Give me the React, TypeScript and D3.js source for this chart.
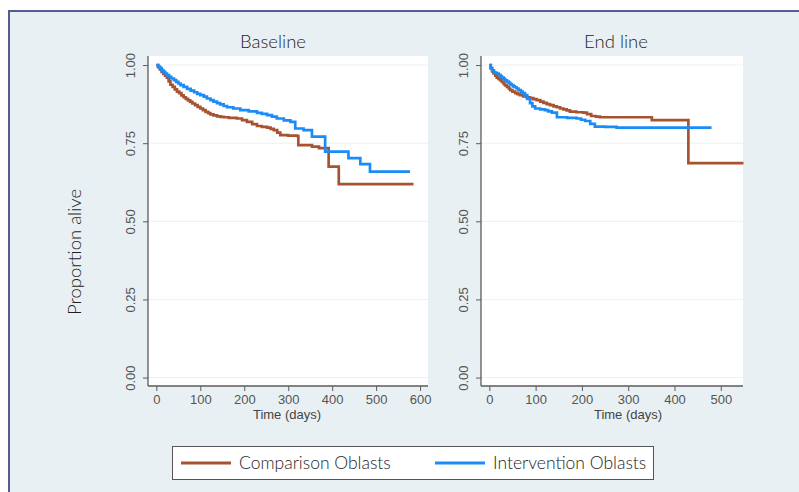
import React, { useEffect, useRef } from 'react';
import * as d3 from 'd3';

// Kaplan-Meier estimates (days, proportion alive)
const baseCompTime = [0, 4, 8, 12, 16, 20, 24, 28, 32, 37, 42, 47, 52, 57, 62, 67, 72, 77, 82, 88, 94, 100, 106, 112, 118, 123, 130, 138, 146, 153, 165, 183, 195, 206, 218, 229, 240, 252, 260, 267, 275, 282, 300, 320, 323, 354, 370, 392, 415, 585];
const baseCompSurv = [1, 0.993, 0.986, 0.978, 0.972, 0.966, 0.96, 0.948, 0.937, 0.93, 0.922, 0.915, 0.91, 0.903, 0.897, 0.892, 0.887, 0.882, 0.877, 0.872, 0.866, 0.861, 0.856, 0.85, 0.846, 0.842, 0.839, 0.836, 0.834, 0.833, 0.831, 0.829, 0.824, 0.818, 0.811, 0.805, 0.802, 0.8, 0.796, 0.792, 0.784, 0.776, 0.774, 0.773, 0.744, 0.739, 0.734, 0.675, 0.619, 0.619];
const baseIntTime = [0, 4, 8, 12, 16, 20, 24, 29, 34, 40, 45, 50, 55, 62, 70, 78, 86, 93, 100, 108, 115, 123, 130, 138, 145, 153, 161, 175, 191, 210, 229, 240, 252, 263, 274, 290, 305, 316, 335, 354, 384, 437, 464, 486, 577];
const baseIntSurv = [1, 0.995, 0.99, 0.984, 0.978, 0.973, 0.968, 0.962, 0.957, 0.952, 0.946, 0.941, 0.936, 0.93, 0.924, 0.918, 0.913, 0.908, 0.904, 0.899, 0.893, 0.888, 0.883, 0.878, 0.874, 0.869, 0.865, 0.861, 0.856, 0.852, 0.847, 0.844, 0.84, 0.835, 0.829, 0.823, 0.818, 0.797, 0.792, 0.771, 0.723, 0.702, 0.683, 0.659, 0.659];
const endCompTime = [0, 3, 6, 9, 13, 16, 20, 23, 27, 31, 34, 38, 42, 45, 50, 56, 61, 66, 73, 80, 88, 95, 102, 110, 117, 124, 131, 139, 146, 153, 160, 167, 174, 188, 203, 211, 220, 230, 239, 351, 430, 549];
const endCompSurv = [1, 0.99, 0.98, 0.973, 0.966, 0.96, 0.956, 0.952, 0.946, 0.94, 0.935, 0.93, 0.925, 0.92, 0.915, 0.91, 0.907, 0.904, 0.9, 0.897, 0.894, 0.891, 0.888, 0.883, 0.879, 0.875, 0.872, 0.868, 0.865, 0.861, 0.858, 0.855, 0.851, 0.849, 0.848, 0.843, 0.837, 0.835, 0.833, 0.824, 0.686, 0.686];
const endIntTime = [0, 3, 6, 10, 13, 16, 20, 24, 27, 31, 34, 38, 42, 45, 48, 52, 55, 59, 63, 68, 72, 77, 82, 88, 93, 99, 110, 120, 127, 135, 146, 168, 189, 198, 207, 218, 228, 250, 275, 480];
const endIntSurv = [1, 0.99, 0.983, 0.977, 0.975, 0.973, 0.969, 0.964, 0.96, 0.956, 0.951, 0.947, 0.943, 0.939, 0.936, 0.932, 0.929, 0.925, 0.92, 0.915, 0.91, 0.904, 0.892, 0.878, 0.868, 0.861, 0.858, 0.856, 0.852, 0.848, 0.833, 0.831, 0.829, 0.825, 0.821, 0.812, 0.803, 0.802, 0.8, 0.8];

const seriesNames = ['Comparison Oblasts', 'Intervention Oblasts'];
const seriesColors = ['#a8532f', '#1a8cf7'];
const yTicks = [0, 0.25, 0.5, 0.75, 1];
const baseXTicks = [0, 100, 200, 300, 400, 500, 600];
const endXTicks = [0, 100, 200, 300, 400, 500];

const panels = [
  { title: 'Baseline', left: 148, right: 428, xMin: -19, xMax: 618, xTicks: baseXTicks, titleX: 273, labelX: 287,
    series: [[baseCompTime, baseCompSurv], [baseIntTime, baseIntSurv]] },
  { title: 'End line', left: 481, right: 743, xMin: -18, xMax: 548, xTicks: endXTicks, titleX: 616, labelX: 628,
    series: [[endCompTime, endCompSurv], [endIntTime, endIntSurv]] },
];

const W = 799;
const H = 492;
const TOP = 56;
const BOTTOM = 386;
const tickFont = "'Liberation Sans Narrow', 'Arial Narrow', 'Liberation Sans', sans-serif";
const labelFont = "Lato, 'Open Sans', sans-serif";

export default function App() {
  const ref = useRef<SVGSVGElement>(null);

  useEffect(() => {
    const svg = d3.select(ref.current);
    svg.selectAll('*').remove();

    // background + frame
    svg.append('rect').attr('width', W).attr('height', H).attr('fill', '#ffffff');
    svg.append('rect').attr('x', 9).attr('y', 11).attr('width', W - 9).attr('height', H - 11).attr('fill', '#e8f0f3');
    svg.append('line').attr('x1', 9).attr('x2', W).attr('y1', 11).attr('y2', 11).attr('stroke', '#585a94').attr('stroke-width', 2);
    svg.append('line').attr('x1', 9).attr('x2', 9).attr('y1', 10).attr('y2', H).attr('stroke', '#585a94').attr('stroke-width', 2);

    const y = d3.scaleLinear().domain([-0.027, 1.029]).range([BOTTOM, TOP]);

    panels.forEach((p) => {
      const x = d3.scaleLinear().domain([p.xMin, p.xMax]).range([p.left, p.right]);
      const g = svg.append('g');

      g.append('rect').attr('x', p.left).attr('y', TOP)
        .attr('width', p.right - p.left).attr('height', BOTTOM - TOP).attr('fill', '#ffffff');

      // grid
      g.selectAll('.grid').data(yTicks).enter().append('line')
        .attr('x1', p.left).attr('x2', p.right)
        .attr('y1', (d) => y(d)).attr('y2', (d) => y(d))
        .attr('stroke', '#eaf2f3').attr('stroke-width', 1);

      // curves
      const line = d3.line<[number, number]>()
        .x((d) => x(d[0]))
        .y((d) => y(d[1]))
        .curve(d3.curveStepAfter);

      p.series.forEach(([t, s], i) => {
        const pts = t.map((v, k) => [v, s[k]] as [number, number]);
        g.append('path').attr('d', line(pts))
          .attr('fill', 'none')
          .attr('stroke', seriesColors[i])
          .attr('stroke-width', 2.7);
      });

      // y axis
      const yAxis = g.append('g').attr('transform', `translate(${p.left},0)`)
        .call(d3.axisLeft(y).tickValues(yTicks).tickFormat(d3.format('.2f')).tickSize(5).tickPadding(10));
      yAxis.select('.domain').attr('d', `M0,${TOP}V${BOTTOM}`).attr('stroke', '#5b5b5b').attr('stroke-width', 1.3);
      yAxis.selectAll('.tick line').attr('stroke', '#5b5b5b');
      yAxis.selectAll('.tick text')
        .attr('font-family', tickFont).attr('font-size', 13).attr('fill', '#555')
        .attr('text-anchor', 'middle').attr('x', null).attr('dy', '0.35em')
        .attr('transform', 'translate(-18,0) rotate(-90)');

      // x axis
      const xAxis = g.append('g').attr('transform', `translate(0,${BOTTOM})`)
        .call(d3.axisBottom(x).tickValues(p.xTicks).tickSize(5).tickPadding(4));
      xAxis.select('.domain').attr('d', `M${p.left},0H${p.right}`).attr('stroke', '#5b5b5b').attr('stroke-width', 1.3);
      xAxis.selectAll('.tick line').attr('stroke', '#5b5b5b');
      xAxis.selectAll('.tick text')
        .attr('font-family', tickFont).attr('font-size', 13).attr('fill', '#555');

      g.append('text').attr('x', p.labelX).attr('y', 419)
        .attr('text-anchor', 'middle').attr('font-family', tickFont).attr('font-size', 13).attr('fill', '#444')
        .text('Time (days)');

      g.append('text').attr('x', p.titleX).attr('y', 48)
        .attr('text-anchor', 'middle').attr('font-family', labelFont).attr('font-weight', 300)
        .attr('font-size', 18.5).attr('fill', '#1e1e1e')
        .text(p.title);
    });

    svg.append('text').attr('transform', 'translate(81,252) rotate(-90)')
      .attr('text-anchor', 'middle').attr('font-family', labelFont).attr('font-weight', 300)
      .attr('font-size', 18.5).attr('fill', '#1e1e1e')
      .text('Proportion alive');

    // legend
    const lg = svg.append('g');
    lg.append('rect').attr('x', 172.5).attr('y', 446.5).attr('width', 481).attr('height', 33)
      .attr('fill', '#ffffff').attr('stroke', '#555').attr('stroke-width', 1);
    const legendX = [181, 435];
    seriesNames.forEach((name, i) => {
      lg.append('line').attr('x1', legendX[i]).attr('x2', legendX[i] + 50).attr('y1', 463).attr('y2', 463)
        .attr('stroke', seriesColors[i]).attr('stroke-width', 3);
      lg.append('text').attr('x', legendX[i] + 58).attr('y', 469)
        .attr('font-family', labelFont).attr('font-weight', 300).attr('font-size', 17.5).attr('fill', '#1e1e1e')
        .text(name);
    });
  }, []);

  return <svg ref={ref} width={W} height={H} style={{ position: 'absolute', left: 0, top: 0 }} />;
}
